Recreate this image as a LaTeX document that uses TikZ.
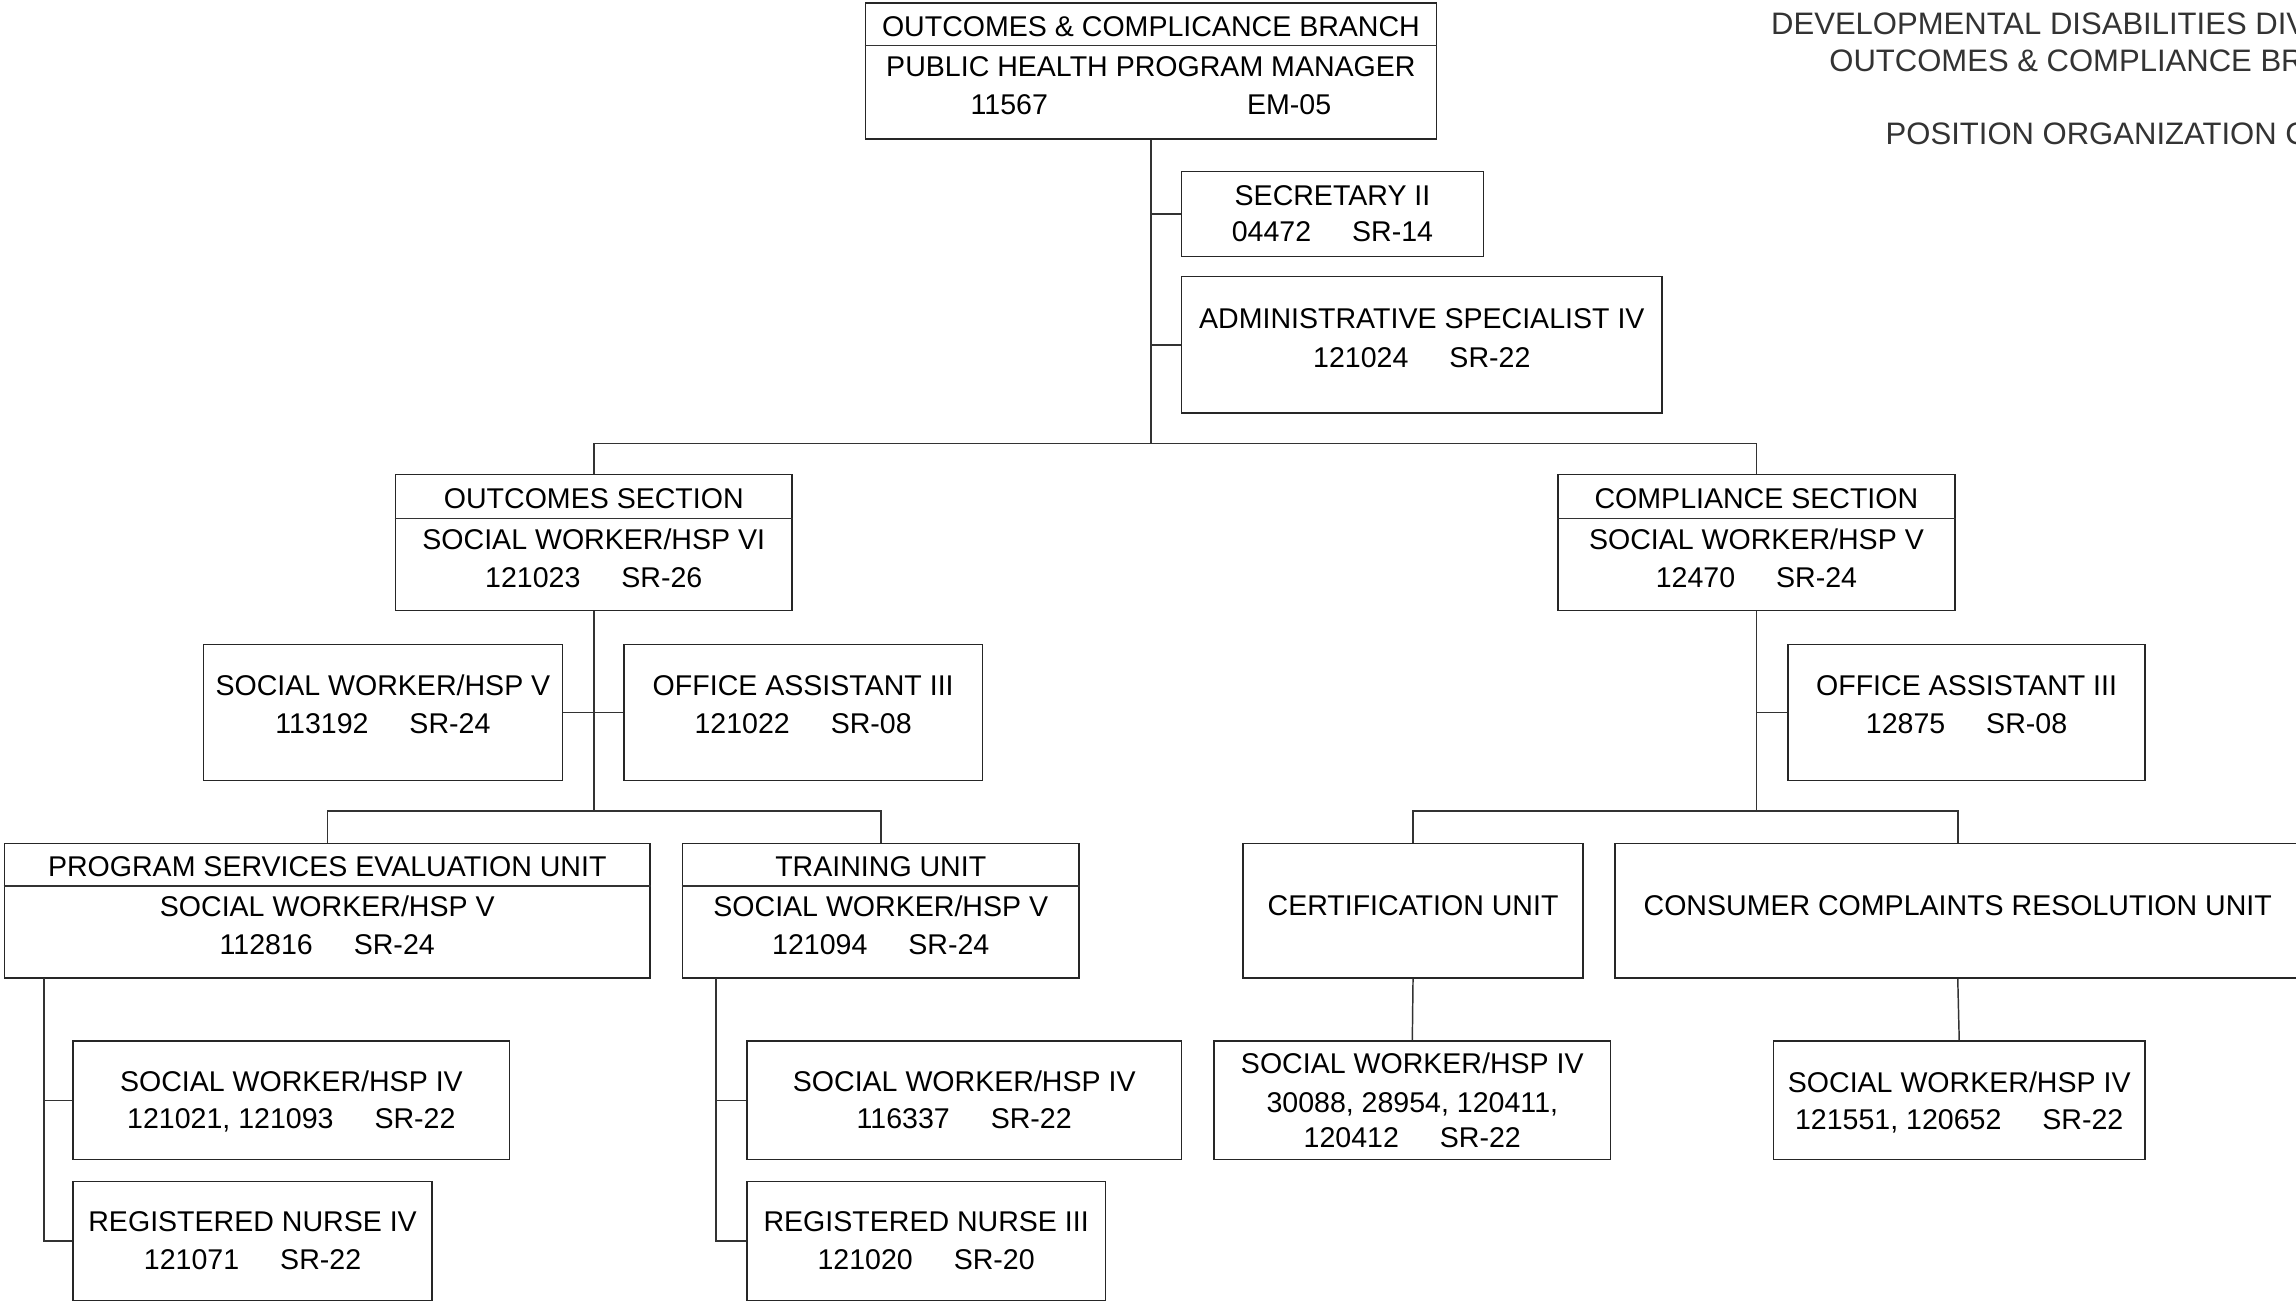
\documentclass[tikz,border=0pt]{standalone}
\usepackage{fontspec}
\setmainfont{Liberation Sans}
\usetikzlibrary{fit}
\newcommand\gp{\hspace{28pt}}
\tikzset{
  bx/.style={draw=black!85, line width=1pt, inner sep=0pt, fill=white},
  tx/.style={inner sep=0pt, anchor=base, font=\fontsize{19.5}{24}\selectfont, text=black},
  ttl/.style={inner sep=0pt, anchor=base east, font=\fontsize{21.2}{25}\selectfont, text=black!80},
  ln/.style={draw=black!80, line width=1pt},
}
\newcommand\bx[5]{\node[bx, fit={(#2,#3) (#4,#5)}] (#1) {};}
\newcommand\tx[4]{\node[tx] (#1) at (#2,#3+7) {#4};}
\begin{document}
\begin{tikzpicture}[x=1pt,y=-1pt]
\useasboundingbox (0,0) rectangle (1568,889);
\clip (0,0) rectangle (1568,889);
\fill[white] (0,0) rectangle (1568,889);

% title
\node[ttl] (t1) at (1633.5,16+7.5) {DEVELOPMENTAL DISABILITIES DIVISION};
\node[ttl] (t2) at (1633.5,41+7.5) {OUTCOMES \& COMPLIANCE BRANCH};
\node[ttl] (t3) at (1633.5,91+7.5) {POSITION ORGANIZATION CHART};

% boxes
\bx{top}{591}{2}{981}{95}
\bx{sec}{807}{117}{1013}{175}
\bx{adm}{807}{189}{1135}{282}
\bx{outc}{270}{324}{541}{417}
\bx{comp}{1064}{324}{1335}{417}
\bx{swv}{139}{440}{384}{533}
\bx{oaa}{426}{440}{671}{533}
\bx{oab}{1221}{440}{1465}{533}
\bx{pseu}{3}{576}{444}{668}
\bx{trn}{466}{576}{737}{668}
\bx{cert}{849}{576}{1081}{668}
\bx{ccru}{1103}{576}{1571}{668}
\bx{swa}{50}{711}{348}{792}
\bx{rna}{50}{807}{295}{888}
\bx{swb}{510}{711}{807}{792}
\bx{rnb}{510}{807}{755}{888}
\bx{swc}{829}{711}{1100}{792}
\bx{swd}{1211}{711}{1465}{792}

% dividers
\draw[ln] (top.west |- 0,31) -- (top.east |- 0,31);
\draw[ln] (outc.west |- 0,354) -- (outc.east |- 0,354);
\draw[ln] (comp.west |- 0,354) -- (comp.east |- 0,354);
\draw[ln] (pseu.west |- 0,605) -- (pseu.east |- 0,605);
\draw[ln] (trn.west |- 0,605) -- (trn.east |- 0,605);

% texts
\tx{top1}{786}{18}{OUTCOMES \& COMPLICANCE BRANCH}
\tx{top2}{786}{45}{PUBLIC HEALTH PROGRAM MANAGER}
\tx{top3}{786}{71}{11567\hspace{136pt}EM-05}
\tx{sec1}{910}{133}{SECRETARY II}
\tx{sec2}{910}{158}{04472\gp SR-14}
\tx{adm1}{971}{217}{ADMINISTRATIVE SPECIALIST IV}
\tx{adm2}{971}{244}{121024\gp SR-22}
\tx{outc1}{405.5}{340}{OUTCOMES SECTION}
\tx{outc2}{405.5}{368}{SOCIAL WORKER/HSP VI}
\tx{outc3}{405.5}{394}{121023\gp SR-26}
\tx{comp1}{1199.5}{340}{COMPLIANCE SECTION}
\tx{comp2}{1199.5}{368}{SOCIAL WORKER/HSP V}
\tx{comp3}{1199.5}{394}{12470\gp SR-24}
\tx{swv1}{261.5}{468}{SOCIAL WORKER/HSP V}
\tx{swv2}{261.5}{494}{113192\gp SR-24}
\tx{oaa1}{548.5}{468}{OFFICE ASSISTANT III}
\tx{oaa2}{548.5}{494}{121022\gp SR-08}
\tx{oab1}{1343}{468}{OFFICE ASSISTANT III}
\tx{oab2}{1343}{494}{12875\gp SR-08}
\tx{pseu1}{223.5}{591.5}{PROGRAM SERVICES EVALUATION UNIT}
\tx{pseu2}{223.5}{619}{SOCIAL WORKER/HSP V}
\tx{pseu3}{223.5}{645}{112816\gp SR-24}
\tx{trn1}{601.5}{591.5}{TRAINING UNIT}
\tx{trn2}{601.5}{619}{SOCIAL WORKER/HSP V}
\tx{trn3}{601.5}{645}{121094\gp SR-24}
\tx{cert1}{965}{618}{CERTIFICATION UNIT}
\tx{ccru1}{1337}{618}{CONSUMER COMPLAINTS RESOLUTION UNIT}
\tx{swa1}{199}{738.5}{SOCIAL WORKER/HSP IV}
\tx{swa2}{199}{764}{121021, 121093\gp SR-22}
\tx{rna1}{172.5}{834}{REGISTERED NURSE IV}
\tx{rna2}{172.5}{860}{121071\gp SR-22}
\tx{swb1}{658.5}{738.5}{SOCIAL WORKER/HSP IV}
\tx{swb2}{658.5}{764}{116337\gp SR-22}
\tx{rnb1}{632.5}{834}{REGISTERED NURSE III}
\tx{rnb2}{632.5}{860}{121020\gp SR-20}
\tx{swc1}{964.5}{726}{SOCIAL WORKER/HSP IV}
\tx{swc2}{964.5}{752.5}{30088, 28954, 120411,}
\tx{swc3}{964.5}{776.5}{120412\gp SR-22}
\tx{swd1}{1338}{739}{SOCIAL WORKER/HSP IV}
\tx{swd2}{1338}{764.5}{121551, 120652\gp SR-22}

% connectors
\coordinate (j1) at (786,303);
\draw[ln] (top.south) -- (j1);
\draw[ln] (sec.west) -- (sec.west -| j1);
\draw[ln] (adm.west) -- (adm.west -| j1);
\draw[ln] (outc.north) -- (outc.north |- j1) -- (comp.north |- j1) -- (comp.north);

\coordinate (j2) at (405.5,554);
\draw[ln] (outc.south) -- (j2);
\draw[ln] (swv.east) -- (oaa.west);
\draw[ln] (pseu.north) -- (pseu.north |- j2) -- (trn.north |- j2) -- (trn.north);

\coordinate (pt) at (30,668);
\draw[ln] (pt) |- (rna.west);
\draw[ln] (swa.west) -- (swa.west -| pt);
\coordinate (tt) at (489,668);
\draw[ln] (tt) |- (rnb.west);
\draw[ln] (swb.west) -- (swb.west -| tt);

\coordinate (j3) at (1199.5,554);
\draw[ln] (comp.south) -- (j3);
\draw[ln] (oab.west) -- (oab.west -| j3);
\draw[ln] (cert.north) -- (cert.north |- j3) -- (ccru.north |- j3) -- (ccru.north);
\draw[ln] (cert.south) -- (swc.north);
\draw[ln] (ccru.south) -- (swd.north);
\end{tikzpicture}
\end{document}
